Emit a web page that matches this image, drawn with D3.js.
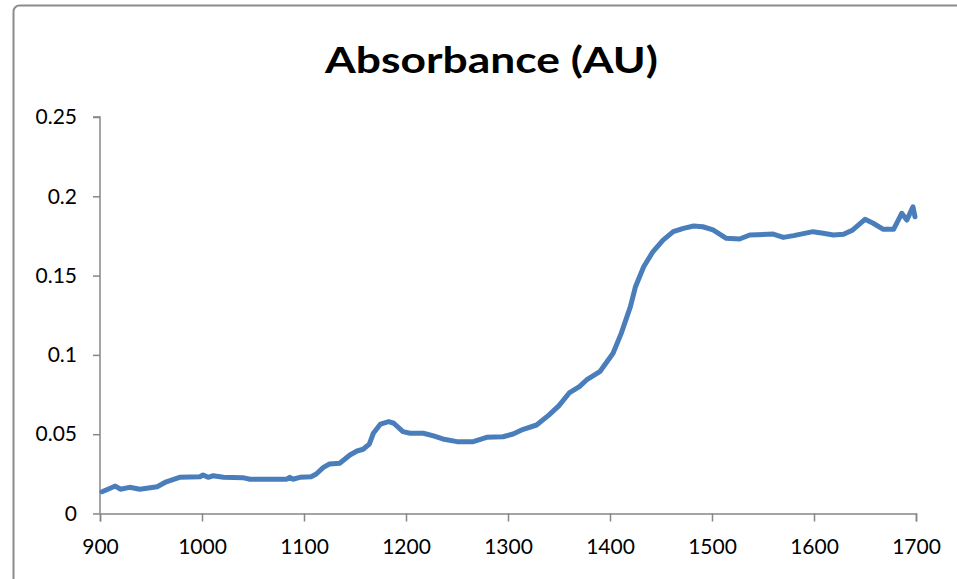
<!DOCTYPE html>
<html>
<head>
<meta charset="utf-8">
<script src="https://cdn.jsdelivr.net/npm/d3@7/dist/d3.min.js"></script>
<style>
  html, body { margin: 0; padding: 0; background: #fff; }
  svg { display: block; }
</style>
</head>
<body>
<svg id="chart" width="957" height="579"></svg>
<script>
// ---- data ----
const titleText = "Absorbance (AU)";
const wavelengths = [902, 910, 915, 920, 929, 939, 956, 965, 978, 998, 1001, 1006, 1011, 1021, 1040, 1047, 1083, 1086, 1089, 1096, 1107, 1112, 1119, 1125, 1135, 1145, 1152, 1158, 1164, 1168, 1175, 1183, 1188, 1197, 1204, 1217, 1227, 1236, 1250, 1266, 1279, 1295, 1305, 1315, 1328, 1340, 1350, 1360, 1370, 1377, 1390, 1403, 1411, 1420, 1425, 1433, 1442, 1452, 1462, 1472, 1482, 1491, 1501, 1514, 1527, 1537, 1560, 1570, 1580, 1599, 1609, 1619, 1629, 1638, 1650, 1658, 1668, 1678, 1681, 1686, 1691, 1697, 1699];
const absorbance = [0.0137, 0.0159, 0.0173, 0.0153, 0.0165, 0.0153, 0.0169, 0.0200, 0.0228, 0.0232, 0.0243, 0.0228, 0.0238, 0.0228, 0.0226, 0.0216, 0.0216, 0.0228, 0.0216, 0.0228, 0.0232, 0.0249, 0.0291, 0.0312, 0.0317, 0.0369, 0.0394, 0.0405, 0.0438, 0.0506, 0.0564, 0.0579, 0.0569, 0.0516, 0.0506, 0.0506, 0.0489, 0.0470, 0.0453, 0.0453, 0.0480, 0.0484, 0.0501, 0.0531, 0.0558, 0.0620, 0.0680, 0.0760, 0.0800, 0.0842, 0.0894, 0.1010, 0.1136, 0.1304, 0.1430, 0.1556, 0.1650, 0.1724, 0.1777, 0.1798, 0.1813, 0.1808, 0.1788, 0.1735, 0.1731, 0.1756, 0.1762, 0.1741, 0.1752, 0.1777, 0.1767, 0.1756, 0.1760, 0.1788, 0.1855, 0.1830, 0.1792, 0.1792, 0.1830, 0.1893, 0.1850, 0.1934, 0.1871];
const xTicks = [900, 1000, 1100, 1200, 1300, 1400, 1500, 1600, 1700];
const yTicks = [0, 0.05, 0.1, 0.15, 0.2, 0.25];

// ---- layout ----
const svg = d3.select("#chart");
const plot = { left: 100, right: 916, top: 117, bottom: 513.5 };

// chart frame
svg.append("rect")
  .attr("x", 13.5).attr("y", 5.5)
  .attr("width", 1000).attr("height", 700)
  .attr("rx", 6)
  .attr("fill", "#fff")
  .attr("stroke", "#8c8c8c")
  .attr("stroke-width", 2);

const x = d3.scaleLinear().domain([900, 1700]).range([plot.left, plot.right]);
const y = d3.scaleLinear().domain([0, 0.25]).range([plot.bottom, plot.top]);

const fmt = d => d === 0 ? "0" : String(+d.toFixed(2));

const yAxis = svg.append("g")
  .attr("transform", `translate(${plot.left},0)`)
  .call(d3.axisLeft(y).tickValues(yTicks).tickFormat(fmt).tickSize(7).tickPadding(16));
const xAxis = svg.append("g")
  .attr("transform", `translate(0,${plot.bottom})`)
  .call(d3.axisBottom(x).tickValues(xTicks).tickFormat(d3.format("d")).tickSize(8).tickPadding(18));

[yAxis, xAxis].forEach(a => {
  a.select(".domain").attr("stroke", "#868686").attr("stroke-width", 1.5);
  a.selectAll(".tick line").attr("stroke", "#868686").attr("stroke-width", 1.5);
  a.selectAll(".tick text")
    .attr("fill", "#000")
    .style("font-family", "Lato, 'Open Sans', sans-serif")
    .style("font-size", "21px");
});
yAxis.select(".domain").attr("d", `M0,${plot.bottom}V${plot.top}H-7`);

// line
const line = d3.line()
  .x((d, i) => x(wavelengths[i]))
  .y(d => y(d))
  .curve(d3.curveLinear);

svg.append("path")
  .datum(absorbance)
  .attr("d", line)
  .attr("fill", "none")
  .attr("stroke", "#4a7ebb")
  .attr("stroke-width", 5)
  .attr("stroke-linejoin", "round")
  .attr("stroke-linecap", "round");

// title
svg.append("text")
  .attr("x", 491.5)
  .attr("y", 73)
  .attr("text-anchor", "middle")
  .attr("textLength", 333)
  .attr("lengthAdjust", "spacingAndGlyphs")
  .style("font-family", "Lato, 'Open Sans', sans-serif")
  .style("font-weight", "bold")
  .style("font-size", "36px")
  .attr("fill", "#000")
  .text(titleText);
</script>
</body>
</html>
